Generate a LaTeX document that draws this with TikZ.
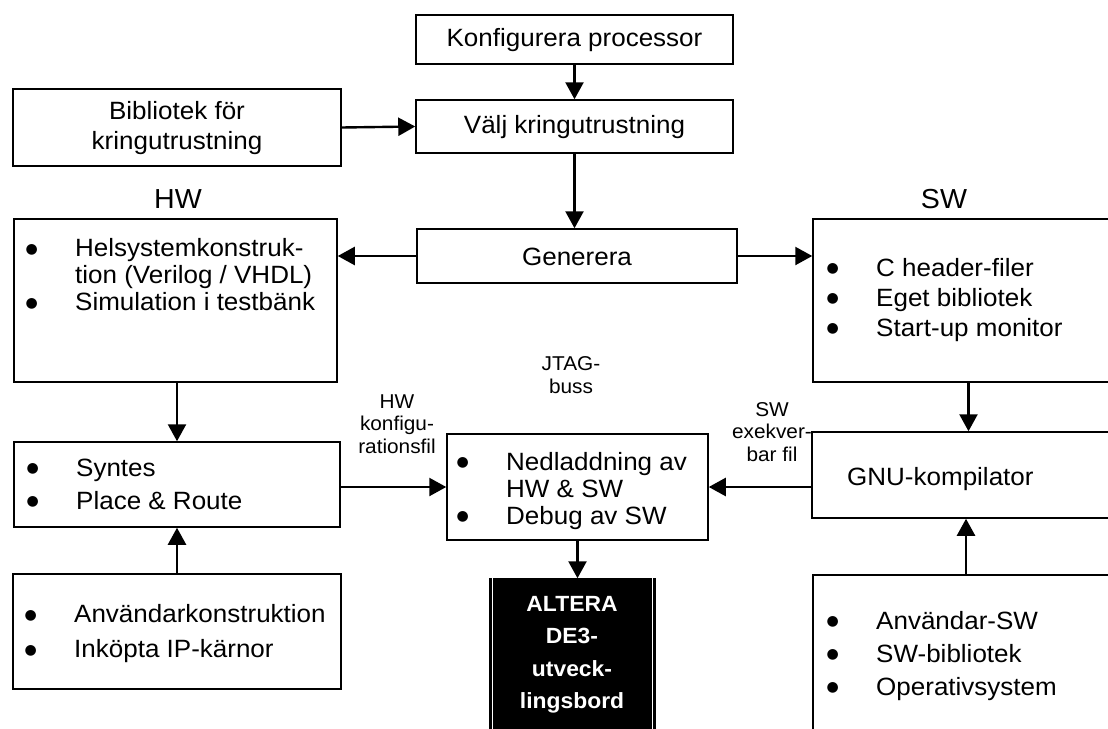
\documentclass[tikz,border=0pt]{standalone}
\usepackage{fontspec}
\setmainfont[FakeStretch=1.04]{Liberation Sans}
\newfontfamily\dejavu{DejaVu Sans}
\usetikzlibrary{arrows.meta,fit}
\newlength\bw
\setlength\bw{48pt}
\newcommand\blt{\smash{\raisebox{3.5pt}{\dejavu\fontsize{14}{0}\selectfont ●}}}
\newcommand\bi[1]{\makebox[\bw][l]{\hspace*{-1.5pt}\blt}#1}
\newcommand\bc[1]{\hspace*{\bw}#1}
\begin{document}
\begin{tikzpicture}[x=1pt,y=-1pt,
  box/.style={draw,line width=1.5pt,inner sep=0pt},
  ctext/.style={inner sep=0pt,align=center,font=\fontsize{25}{30}\selectfont},
  txt/.style={inner sep=0pt,anchor=west,align=left},
  lbl/.style={inner sep=0pt,align=center,font=\fontsize{20}{22.5}\selectfont},
  ttl/.style={inner sep=0pt,font=\fontsize{27.5}{30}\selectfont},
  arr/.style={line width=2.4pt,-{Triangle[width=18pt,length=17pt]}}]
\useasboundingbox (0,0) rectangle (1108,728);
\clip (0,0) rectangle (1108,728);
% boxes
\node[box,fit={(416,15)(733,64)}] (konf) {};
\node[box,fit={(416,100)(733,153)}] (valj) {};
\node[box,fit={(13,89)(341,166)}] (bib) {};
\node[box,fit={(417,229)(737,283)}] (gen) {};
\node[box,fit={(14,219)(337,382)}] (hw) {};
\node[box,fit={(813,219)(1125,382)}] (sw) {};
\node[box,fit={(14,442)(340,527)}] (syn) {};
\node[box,fit={(13,574)(341,689)}] (anv) {};
\node[box,fit={(447,434)(708,540)}] (ned) {};
\node[box,fit={(812,432)(1125,518)}] (gnu) {};
\node[box,fit={(813,575)(1125,745)}] (br) {};
\node[draw=black,fill=black,line width=1.5pt,inner sep=0pt,fit={(490,579)(655,745)}] (alt) {};
\draw[white,line width=1.4pt] ([shift={(3.5,-3.5)}]alt.north west) rectangle ([shift={(-3.5,3.5)}]alt.south east);
% centred texts
\node[ctext] (tkonf) at (574.5,40) {Konfigurera processor};
\node[ctext] (tvalj) at (574.5,127) {Välj kringutrustning};
\node[ctext] (tbib) at (177,128) {Bibliotek för\\kringutrustning};
\node[ctext] (tgen) at (577,257) {Generera};
% bullet texts
\node[txt,font=\fontsize{25}{27}\selectfont] (thw) at (27,275)
  {\bi{Helsystemkonstruk-}\\ \bc{tion (Verilog / VHDL)}\\ \bi{Simulation i testbänk}};
\node[txt,font=\fontsize{25}{30}\selectfont] (tsw) at (828,300)
  {\bi{C header-filer}\\ \bi{Eget bibliotek}\\ \bi{Start-up monitor}};
\node[txt,font=\fontsize{25}{33}\selectfont] (tsyn) at (28,484)
  {\bi{Syntes}\\ \bi{Place \& Route}};
\node[txt,font=\fontsize{25}{35}\selectfont] (tanv) at (26,634)
  {\bi{Användarkonstruktion}\\ \bi{Inköpta IP-kärnor}};
\node[txt,font=\fontsize{25}{27}\selectfont] (tned) at (458,491)
  {\bi{Nedladdning av}\\ \bc{HW \& SW}\\ \bi{Debug av SW}};
\node[txt,font=\fontsize{25}{33}\selectfont] (tbr) at (828,656)
  {\bi{Användar-SW}\\ \bi{SW-bibliotek}\\ \bi{Operativsystem}};
\node[txt,font=\fontsize{25}{30}\selectfont] (tgnu) at (847,479) {GNU-kompilator};
\node[inner sep=0pt,align=center,text=white,font=\fontsize{22}{32.5}\selectfont\bfseries] (talt) at (572,655)
  {ALTERA\\DE3-\\utveck-\\lingsbord};
% labels
\node[ttl] (lhwt) at (178,199) {HW};
\node[ttl] (lswt) at (944,199) {SW};
\node[lbl] (lhw) at (397,424) {HW\\konfigu-\\rationsfil};
\node[lbl] (ljtag) at (571,375) {JTAG-\\buss};
\node[lbl] (lsw) at (772,432) {SW\\exekver-\\bar fil};
% arrows
\draw[arr] (konf.south) -- (valj.north);
\draw[arr] (bib.east) -- (valj.west);
\draw[arr] (valj.south) -- (valj.south |- gen.north);
\draw[arr] (gen.west) -- (gen.west -| hw.east);
\draw[arr] (gen.east) -- (gen.east -| sw.west);
\draw[arr] (hw.south -| anv.north) -- (anv.north |- syn.north);
\draw[arr] (anv.north) -- (anv.north |- syn.south);
\draw[arr] (ned.west -| syn.east) -- (ned.west);
\draw[arr] (ned.east -| gnu.west) -- (ned.east);
\draw[arr] (gnu.north |- sw.south) -- (gnu.north);
\draw[arr] (br.north -| 966,0) -- (gnu.south -| 966,0);
\draw[arr] (ned.south) -- (ned.south |- alt.north);
\end{tikzpicture}
\end{document}
